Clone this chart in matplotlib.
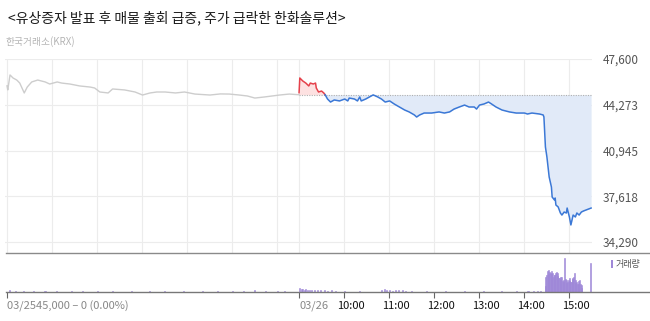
import matplotlib
matplotlib.use("Agg")
import matplotlib.pyplot as plt
import matplotlib.transforms as mtransforms
from matplotlib.lines import Line2D
from matplotlib.patches import Rectangle

plt.rcParams['font.family'] = ['Noto Sans CJK KR', 'DejaVu Sans']

title = "<유상증자 발표 후 매물 출회 급증, 주가 급락한 한화솔루션>"
source = "한국거래소(KRX)"
prev_close = 45000
y_ticks = [34290, 37618, 40945, 44273, 47600]
hour_labels = ["10:00", "11:00", "12:00", "13:00", "14:00", "15:00"]

# 03/25 (previous day) price
prev_times = ["09:00", "09:01", "09:04", "09:08", "09:13", "09:17", "09:23", "09:27",
              "09:33", "09:41", "09:51", "09:57", "10:07", "10:13", "10:24", "10:37",
              "10:51", "10:57", "11:04", "11:15", "11:21", "11:37", "11:51", "12:01",
              "12:11", "12:20", "12:31", "12:45", "12:57", "13:11", "13:31", "13:45",
              "13:57", "14:10", "14:21", "14:31", "14:44", "15:04", "15:17", "15:30"]
prev_prices = [45650, 45350, 46440, 46220, 46070, 45850, 45130, 45560,
               45930, 46070, 45930, 45780, 45930, 45850, 45780, 45640,
               45560, 45490, 45200, 45130, 45420, 45350, 45200, 44980,
               45130, 45200, 45200, 45130, 45200, 45050, 44980, 45060,
               45050, 44980, 44910, 44760, 44840, 44980, 45050, 45000]

# 03/26 price
today_times = ["09:00", "09:01", "09:05", "09:09", "09:13", "09:15", "09:19", "09:22",
               "09:23", "09:26", "09:30", "09:33", "09:35", "09:38", "09:42", "09:47",
               "09:54", "10:01", "10:05", "10:07", "10:14", "10:18", "10:21", "10:23",
               "10:29", "10:34", "10:39", "10:45", "10:50", "10:55", "11:01", "11:07",
               "11:14", "11:21", "11:27", "11:34", "11:37", "11:41", "11:47", "11:57",
               "12:07", "12:14", "12:21", "12:27", "12:34", "12:41", "12:47", "12:54",
               "12:57", "13:01", "13:07", "13:13", "13:17", "13:23", "13:31", "13:41",
               "13:50", "14:01", "14:05", "14:11", "14:21", "14:26", "14:27", "14:29",
               "14:30", "14:31", "14:34", "14:37", "14:38", "14:41", "14:42", "14:43",
               "14:46", "14:49", "14:51", "14:54", "14:57", "14:58", "15:01", "15:03",
               "15:06", "15:09", "15:11", "15:14", "15:17", "15:20", "15:30"]
today_prices = [45150, 46220, 46000, 45850, 45640, 45850, 45780, 45850,
                45490, 45200, 45270, 45130, 44980, 44690, 44470, 44620,
                44550, 44690, 44550, 44760, 44690, 44550, 44840, 44550,
                44690, 44840, 44990, 44840, 44690, 44470, 44550, 44330,
                44110, 43890, 43750, 43530, 43380, 43530, 43670, 43670,
                43750, 43670, 43750, 43960, 44110, 44250, 44110, 44110,
                43960, 44250, 44330, 44470, 44330, 44110, 43890, 43750,
                43670, 43670, 43600, 43670, 43600, 43530, 43380, 41200,
                40840, 40470, 39020, 38290, 37560, 37350, 37490, 36980,
                36840, 36400, 36250, 36470, 36400, 36760, 36110, 35530,
                36250, 36110, 36400, 36250, 36470, 36550, 36760]

# volume (thousand shares)
vol_prev_times = ["09:02", "09:10", "09:21", "09:35", "09:50", "10:05", "10:25", "10:40",
                  "11:00", "11:20", "11:45", "12:10", "12:30", "12:55", "13:20", "13:40",
                  "14:00", "14:15", "14:30", "14:45", "15:00", "15:10"]
vol_prev = [15, 10, 12, 8, 10, 8, 10, 7, 9, 8, 10, 7, 8, 6, 9, 8, 10, 12, 15, 10, 12, 9]
vol_today_times = ["09:00", "09:02", "09:04", "09:06", "09:08", "09:10", "09:13", "09:16",
                   "09:20", "09:24", "09:28", "09:33", "09:37", "09:42", "09:48",
                   "10:00", "10:20", "10:50", "10:53", "10:56", "11:00", "11:04", "11:08",
                   "11:12", "11:17", "11:22", "11:30", "11:50", "12:15", "12:40", "13:05",
                   "13:30", "13:50", "14:05", "14:12", "14:18", "14:22",
                   "14:28", "14:29", "14:30", "14:31", "14:32", "14:33", "14:34", "14:35",
                   "14:36", "14:37", "14:38", "14:39", "14:40", "14:41", "14:42", "14:43",
                   "14:44", "14:45", "14:46", "14:47", "14:48", "14:49", "14:50", "14:51",
                   "14:52", "14:53", "14:54", "14:55", "14:56", "14:57", "14:58", "14:59",
                   "15:00", "15:01", "15:02", "15:03", "15:04", "15:05", "15:06", "15:07",
                   "15:08", "15:09", "15:10", "15:11", "15:12", "15:13", "15:14", "15:15",
                   "15:16", "15:17", "15:28"]
vol_today = [40, 30, 25, 20, 28, 22, 18, 24, 20, 15, 22, 18, 14, 16, 12,
             8, 8, 15, 25, 18, 22, 12, 18, 15, 20, 12, 10, 7, 8, 7, 8,
             7, 8, 10, 12, 9, 10,
             60, 150, 170, 205, 217, 180, 200, 190,
             210, 175, 183, 150, 170, 167, 185, 200,
             160, 183, 140, 133, 120, 145, 150, 110,
             117, 95, 333, 130, 117, 90, 100, 120,
             110, 133, 95, 100, 125, 133, 150, 183,
             120, 90, 100, 75, 83, 110, 117, 80,
             67, 40, 283]


def to_x(hhmm, day):
    # hours since 03/25 09:00, each session 6.5 hours long
    h, m = map(int, hhmm.split(":"))
    return (h - 9) + m / 60 + 6.5 * day


px = [to_x(t, 0) for t in prev_times]
tx = [to_x(t, 1) for t in today_times]

# split today's series at first drop below previous close
k = next(i for i, p in enumerate(today_prices) if p < prev_close)
x0, x1 = tx[k - 1], tx[k]
y0, y1 = today_prices[k - 1], today_prices[k]
xc = x0 + (y0 - prev_close) / (y0 - y1) * (x1 - x0)
red_x = tx[:k] + [xc]
red_y = today_prices[:k] + [prev_close]
blue_x = [xc] + tx[k:]
blue_y = [prev_close] + today_prices[k:]

W, H = 650, 321
fig = plt.figure(figsize=(6.5, 3.21), dpi=100)
L, R = 5 / W, 592 / W
ax = fig.add_axes([L, 1 - 253 / H, R - L, (253 - 59) / H])
axv = fig.add_axes([L, 1 - 292 / H, R - L, (292 - 253) / H])

xmin, xmax = -0.045, 13.02
ymin, ymax = 33490, 47600

# grid
for g in list(range(0, 7)) + [6.5] + [7.5 + i for i in range(6)]:
    ax.axvline(g, color="#ececec", lw=0.8, zorder=0)
for yt in y_ticks:
    ax.axhline(yt, color="#ececec", lw=0.8, zorder=0)

ax.plot(px, prev_prices, color="#cdcdcd", lw=1.0, zorder=3)
ax.hlines(prev_close, 6.5, 13.0, colors="#b0b0b0", linestyles=(0, (1, 1.2)), lw=0.8, zorder=2)
ax.fill_between(red_x, red_y, prev_close, color="#fde1e1", lw=0, zorder=1)
ax.fill_between(blue_x, blue_y, prev_close, color="#e1eaf8", lw=0, zorder=1)
ax.plot(red_x, red_y, color="#e5414b", lw=1.1, zorder=4)
ax.plot(blue_x, blue_y, color="#3b78d6", lw=1.1, zorder=4)

ax.set_xlim(xmin, xmax)
ax.set_ylim(ymin, ymax)
ax.set_xticks([])
ax.yaxis.tick_right()
ax.set_yticks(y_ticks)
ax.set_yticklabels([f"{v:,}" for v in y_ticks], fontsize=8.5, color="#555555")
ax.tick_params(axis="y", length=0, pad=8)
for s in ax.spines.values():
    s.set_visible(False)

# volume
vx = [to_x(t, 0) for t in vol_prev_times] + [to_x(t, 1) for t in vol_today_times]
vv = vol_prev + vol_today
axv.bar(vx, vv, width=1.4 / 60, color="#9f88d8", edgecolor="#9f88d8", lw=0.4, align="edge")
axv.set_xlim(xmin, xmax)
axv.set_ylim(0, max(vv) * 39 / 34)
axv.set_yticks([])
for s in axv.spines.values():
    s.set_visible(False)
tick_pos = [0, 6.5] + [7.5 + i for i in range(6)]
axv.set_xticks(tick_pos)
axv.set_xticklabels([])
axv.tick_params(axis="x", direction="out", length=4, width=0.8, color="#666666")

shift = mtransforms.ScaledTranslation(7 / 100, 0, fig.dpi_scale_trans)
for pos, lab in zip(tick_pos[2:], hour_labels):
    axv.text(pos, -0.36, lab, transform=axv.get_xaxis_transform() + shift,
             ha="center", va="center", fontsize=8, color="#111111", fontweight="medium")
axv.text(6.5, -0.36, "03/26", transform=axv.get_xaxis_transform(),
         ha="left", va="center", fontsize=8, color="#888888")
axv.text(0, -0.36, "03/2545,000 \u2013 0 (0.00%)", transform=axv.get_xaxis_transform(),
         ha="left", va="center", fontsize=8, color="#888888")

# full-width rules
fig.add_artist(Line2D([6 / W, 1], [1 - 253 / H] * 2, color="#8a8a8a", lw=1.0))
fig.add_artist(Line2D([6 / W, 1], [1 - 292 / H] * 2, color="#777777", lw=1.0))

# legend for volume
fig.add_artist(Rectangle((611 / W, 1 - 268 / H), 2 / W, 8 / H, color="#9f88d8", lw=0))
fig.text(616 / W, 1 - 264 / H, "거래량", fontsize=6.5, color="#555555", va="center", ha="left")

fig.text(8 / W, 1 - 18 / H, title, fontsize=10, color="#1a1a1a", va="center", ha="left",
         fontweight="medium")
fig.text(5 / W, 1 - 42 / H, source, fontsize=7, color="#b5b5b5", va="center", ha="left")

fig.savefig("out.png", dpi=100)
